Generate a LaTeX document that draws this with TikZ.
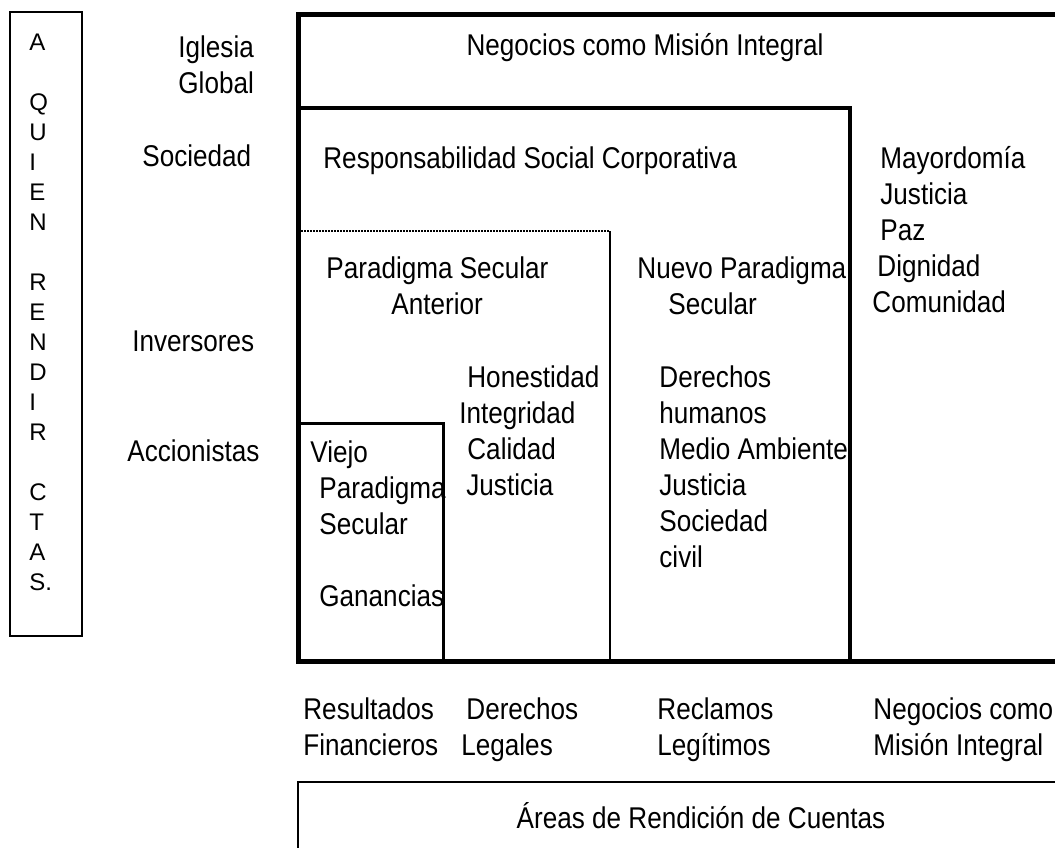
\documentclass[tikz,border=0pt]{standalone}
\usepackage{fontspec}
\setmainfont{Liberation Sans}[FakeStretch=0.87]
\newfontfamily\letrasfont{Liberation Sans}
\usepackage{tikz}

\tikzset{
  txt/.style={inner sep=0pt, anchor=base west, align=left, font=\fontsize{15}{18}\selectfont},
  letras/.style={inner sep=0pt, anchor=base west, align=left, font=\letrasfont\fontsize{12}{15}\selectfont},
  grueso/.style={line width=2.5pt},
  medio/.style={line width=1.75pt},
  fino/.style={line width=0.75pt}
}

\begin{document}
\begin{tikzpicture}[x=0.5pt,y=-0.5pt]
\useasboundingbox (0,0) rectangle (1055,847);
\clip (0,0) rectangle (1055,847);
% los textos de varias lineas se anclan en la linea de base de su ultima linea
\draw[line width=1pt] (10,12) rectangle (82,636);
\node[letras] (quien) at (29,590) {A\\ \mbox{}\\ Q\\ U\\ I\\ E\\ N\\ \mbox{}\\ R\\ E\\ N\\ D\\ I\\ R\\ \mbox{}\\ C\\ T\\ A\\ S.};
\node[txt] (iglesia) at (178,93) {Iglesia\\Global};
\node[txt] (sociedad) at (142,166) {Sociedad};
\node[txt] (inversores) at (132,351) {Inversores};
\node[txt] (accionistas) at (127,461) {Accionistas};
\draw[grueso] (1060,14) -- (298,14) -- (298,661) -- (1060,661);
\draw[medio] (298,108) -- (850,108) -- (850,661);
\draw[fino, dash pattern=on 0.75pt off 0.75pt] (298,231) -- (610,231);
\draw[fino] (610,231) -- (610,661);
\draw[line width=1.5pt] (298,423) -- (443,423) -- (443,661);
\draw[line width=1pt] (1060,782) -- (298,782) -- (298,850);
\node[txt, anchor=base] (misionarriba) at (645,55) {Negocios como Misión Integral};
\node[txt] (rsc) at (323,168) {Responsabilidad Social Corporativa};
\node[txt] (anterior) at (326,314) {Paradigma Secular\\\hspace*{32.5pt}Anterior};
\node[txt] (nuevo) at (637,314) {Nuevo Paradigma\\\hspace*{15.5pt}Secular};
\node[txt] (valores) at (872,312) {\hspace*{4pt}Mayordomía\\\hspace*{4pt}Justicia\\\hspace*{4pt}Paz\\\hspace*{2.5pt}Dignidad\\Comunidad};
\node[txt] (honestidad) at (459,495) {\hspace*{4pt}Honestidad\\Integridad\\\hspace*{4pt}Calidad\\\hspace*{3.5pt}Justicia};
\node[txt] (derechos) at (659,567) {Derechos\\humanos\\Medio Ambiente\\Justicia\\Sociedad\\civil};
\node[txt] (viejo) at (310,606) {Viejo\\\hspace*{4.5pt}Paradigma\\\hspace*{4.5pt}Secular\\ \mbox{}\\\hspace*{4.5pt}Ganancias};
\node[txt] (resultados) at (303,755) {Resultados\\Financieros};
\node[txt] (legales) at (461,755) {\hspace*{2.5pt}Derechos\\Legales};
\node[txt] (reclamos) at (657,755) {Reclamos\\Legítimos};
\node[txt] (misionabajo) at (873,755) {Negocios como\\Misión Integral};
\node[txt, anchor=base] (areas) at (701,828) {Áreas de Rendición de Cuentas};
\end{tikzpicture}
\end{document}
